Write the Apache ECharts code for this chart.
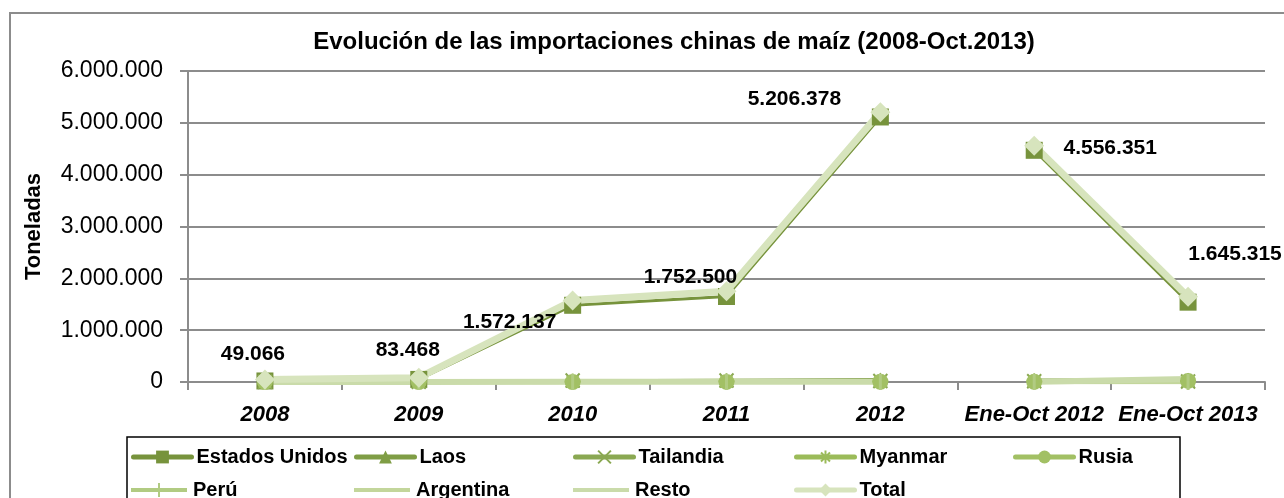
<!DOCTYPE html>
<html>
<head>
<meta charset="utf-8">
<script src="https://cdn.jsdelivr.net/npm/echarts@6/dist/echarts.min.js"></script>
<style>
  html, body { margin: 0; padding: 0; background: #fff; }
  #chart { width: 1284px; height: 498px; }
</style>
</head>
<body>
<div id="chart"></div>
<script>
// categorías del eje X
const categorias = ['2008', '2009', '2010', '2011', '2012', 'Ene-Oct 2012', 'Ene-Oct 2013'];

// toneladas por origen (estimadas del gráfico)
const estadosUnidos = [20000, 50000, 1480000, 1650000, 5113000, 4470000, 1540000];
const laos = [10000, 15000, 25000, 35000, 50000, 40000, 45000];
const tailandia = [5000, 5000, 30000, 30000, 20000, 15000, 10000];
const myanmar = [10000, 10000, 10000, 15000, 10000, 10000, 15000];
const rusia = [0, 0, 0, 1000, 5000, 3000, 20000];
const peru = [500, 500, 600, 800, 1000, 800, 1200];
const argentina = [3000, 2000, 1000, 15000, 5000, 5000, 3000];
const resto = [500, 1000, 5000, 6000, 3000, 3000, 60000];
const total = [49066, 83468, 1572137, 1752500, 5206378, 4556351, 1645315];

// el primer tramo (años completos) va de 0 a 4, el segundo (Ene-Oct) de 5 a 6
const corte = 5;

const FONT = '"Liberation Sans", Arial, sans-serif';
const fmt = (v) => String(Math.round(v)).replace(/\B(?=(\d{3})+(?!\d))/g, '.');

const crossPath = 'path://M0,0L10,10M10,0L0,10';
const starPath = 'path://M5,0L5,10M0,5L10,5M1.5,1.5L8.5,8.5M8.5,1.5L1.5,8.5';

// iconos de leyenda para las series sin marcador (solo línea) y para Perú (línea con raya)
const iconLinea = 'path://M0,0L0.01,0M0,6H56V10H0ZM0,16L0.01,16';
const iconPeru = 'path://M0,0L0.01,0M0,6H56V10H0ZM27,1H29V15H27ZM0,16L0.01,16';

const defs = [
  { name: 'Estados Unidos', data: estadosUnidos, color: '#77933C', symbol: 'rect', size: 17, width: 3 },
  { name: 'Laos', data: laos, color: '#7F9D45', symbol: 'triangle', size: 14, width: 3 },
  { name: 'Tailandia', data: tailandia, color: '#8AA852', symbol: crossPath, size: 14, width: 3 },
  { name: 'Myanmar', data: myanmar, color: '#9BBB59', symbol: starPath, size: 16, width: 3 },
  { name: 'Rusia', data: rusia, color: '#A2C064', symbol: 'circle', size: 16, width: 4 },
  { name: 'Perú', data: peru, color: '#B1CB82', symbol: 'rect', size: [3, 16], width: 4, icon: iconPeru },
  { name: 'Argentina', data: argentina, color: '#C3D69B', symbol: 'none', size: 0, width: 5, icon: iconLinea },
  { name: 'Resto', data: resto, color: '#CADBAA', symbol: 'none', size: 0, width: 6, icon: iconLinea },
  { name: 'Total', data: total, color: '#D7E4BD', symbol: 'diamond', size: 20, width: 7 }
];

// desplazamiento de cada etiqueta del total respecto a su punto
const labelOffsets = [[-12, -25], [-11, -27], [-63, 22], [-36, -14], [-86, -13], [76, 2], [47, -43]];

const series = [];
defs.forEach((d) => {
  [[0, corte], [corte, categorias.length]].forEach(([a, b]) => {
    const vals = d.data.map((v, i) => {
      if (i < a || i >= b) return '-';
      if (d.name !== 'Total') return v;
      return {
        value: v,
        label: {
          show: true,
          offset: labelOffsets[i],
          formatter: (p) => fmt(p.value)
        }
      };
    });
    series.push({
      name: d.name,
      type: 'line',
      data: vals,
      symbol: d.symbol,
      symbolSize: d.size,
      showSymbol: d.symbol !== 'none',
      lineStyle: { color: d.color, width: d.width },
      itemStyle: { color: d.color, borderColor: d.color, borderWidth: d.symbol.startsWith('path') ? 2 : 0 },
      label: {
        position: 'inside',
        color: '#000',
        fontFamily: FONT,
        fontWeight: 'bold',
        fontSize: 21
      },
      animation: false
    });
  });
});

// leyenda: 5 columnas x 2 filas
const legendCols = [126, 349, 568, 789, 1008];
const legends = defs.map((d, i) => {
  const lg = {
    data: [d.name],
    left: legendCols[i % 5],
    top: i < 5 ? 442 : 475,
    itemWidth: 58,
    itemHeight: 16,
    selectedMode: false,
    lineStyle: { width: 5, cap: 'round' },
    textStyle: { fontFamily: FONT, fontWeight: 'bold', fontSize: 20, color: '#000' }
  };
  if (d.icon) lg.icon = d.icon;
  return lg;
});

const chart = echarts.init(document.getElementById('chart'));
chart.setOption({
  backgroundColor: '#fff',
  animation: false,
  title: {
    text: 'Evolución de las importaciones chinas de maíz (2008-Oct.2013)',
    left: 669,
    textAlign: 'center',
    top: 25,
    textStyle: { fontFamily: FONT, fontWeight: 'bold', fontSize: 24, color: '#000' }
  },
  legend: legends,
  graphic: [
    { type: 'rect', shape: { x: 10, y: 13, width: 1290, height: 500 }, style: { fill: 'none', stroke: '#8c8c8c', lineWidth: 2 }, silent: true, z: -1 },
    { type: 'rect', shape: { x: 127, y: 437, width: 1053, height: 70 }, style: { fill: 'none', stroke: '#000', lineWidth: 1.5 }, silent: true }
  ],
  grid: { left: 188, right: 19, top: 71, bottom: 116 },
  xAxis: {
    type: 'category',
    data: categorias,
    boundaryGap: true,
    axisLine: { lineStyle: { color: '#8c8c8c', width: 2 } },
    axisTick: { show: true, length: 8, lineStyle: { color: '#8c8c8c', width: 2 } },
    axisLabel: {
      interval: 0,
      margin: 22,
      color: '#000',
      fontFamily: FONT,
      fontWeight: 'bold',
      fontStyle: 'italic',
      fontSize: 22
    }
  },
  yAxis: {
    type: 'value',
    min: 0,
    max: 6000000,
    interval: 1000000,
    name: 'Toneladas',
    nameLocation: 'middle',
    nameGap: 143,
    nameTextStyle: { fontFamily: FONT, fontWeight: 'bold', fontSize: 22, color: '#000' },
    axisLine: { show: true, lineStyle: { color: '#8c8c8c', width: 2 } },
    axisTick: { show: true, length: 8, lineStyle: { color: '#8c8c8c', width: 2 } },
    splitLine: { lineStyle: { color: '#8c8c8c', width: 2 } },
    axisLabel: {
      margin: 25,
      color: '#000',
      fontFamily: FONT,
      fontSize: 23,
      formatter: (v) => fmt(v)
    }
  },
  series: series
});
</script>
</body>
</html>
